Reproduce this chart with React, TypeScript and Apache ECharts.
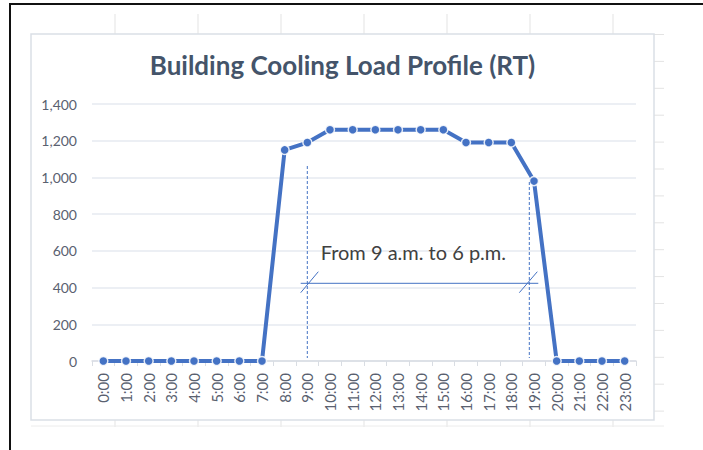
import React, { useEffect, useRef } from 'react';
import * as echarts from 'echarts';

const hours = [
  '0:00', '1:00', '2:00', '3:00', '4:00', '5:00', '6:00', '7:00',
  '8:00', '9:00', '10:00', '11:00', '12:00', '13:00', '14:00', '15:00',
  '16:00', '17:00', '18:00', '19:00', '20:00', '21:00', '22:00', '23:00',
];
const coolingLoad = [
  0, 0, 0, 0, 0, 0, 0, 0,
  1150, 1190, 1260, 1260, 1260, 1260, 1260, 1260,
  1190, 1190, 1190, 980, 0, 0, 0, 0,
];
const yMin = 0;
const yMax = 1400;
const yStep = 200;
const titleText = 'Building Cooling Load Profile (RT)';
const noteText = 'From 9 a.m. to 6 p.m.';

const BLUE = '#4472c4';
const CELL = '#e3e3e3';

export default function App() {
  const ref = useRef<HTMLDivElement>(null);
  useEffect(() => {
    document.body.style.margin = '0';
    const chart = echarts.init(ref.current!, null, { renderer: 'svg' });

    const deco: any[] = [];
    // outer black frame
    deco.push({
      type: 'rect', z: -10, silent: true,
      shape: { x: 10, y: 4, width: 760, height: 520 },
      style: { fill: 'none', stroke: '#111', lineWidth: 2 },
    });
    // spreadsheet cell lines
    [115, 198, 281, 364, 447, 530, 613].forEach((x) => {
      deco.push({ type: 'line', z: -5, silent: true, shape: { x1: x, y1: 14, x2: x, y2: 34 }, style: { stroke: CELL, lineWidth: 1 } });
      deco.push({ type: 'line', z: -5, silent: true, shape: { x1: x, y1: 420, x2: x, y2: 427 }, style: { stroke: CELL, lineWidth: 1 } });
    });
    for (let k = 0; k < 15; k++) {
      const y = 34.5 + k * 26.9;
      deco.push({ type: 'line', z: -5, silent: true, shape: { x1: 654, y1: y, x2: 664, y2: y }, style: { stroke: CELL, lineWidth: 1 } });
    }
    deco.push({ type: 'line', z: -5, silent: true, shape: { x1: 31, y1: 426, x2: 664, y2: 426 }, style: { stroke: '#ececec', lineWidth: 1 } });
    // chart area border
    deco.push({
      type: 'rect', z: -4, silent: true,
      shape: { x: 31, y: 34, width: 623, height: 386 },
      style: { fill: '#fff', stroke: '#dadfe6', lineWidth: 1.5 },
    });
    // annotation
    const ann = { stroke: BLUE, lineWidth: 1 };
    deco.push({ type: 'line', z: 5, silent: true, shape: { x1: 307.3, y1: 166, x2: 307.3, y2: 358 }, style: { ...ann, lineDash: [3, 2] } });
    deco.push({ type: 'line', z: 5, silent: true, shape: { x1: 529.3, y1: 182, x2: 529.3, y2: 358 }, style: { ...ann, lineDash: [3, 2] } });
    deco.push({ type: 'line', z: 5, silent: true, shape: { x1: 300.7, y1: 283.3, x2: 538.3, y2: 283.3 }, style: ann });
    deco.push({ type: 'line', z: 5, silent: true, shape: { x1: 300.7, y1: 292.7, x2: 318.3, y2: 271.7 }, style: ann });
    deco.push({ type: 'line', z: 5, silent: true, shape: { x1: 519.3, y1: 292.7, x2: 537.3, y2: 271.7 }, style: ann });
    deco.push({
      type: 'text', z: 6, silent: true, x: 320.7, y: 251.7,
      style: {
        text: noteText, fill: '#404040', fontSize: 20, fontFamily: 'Lato',
        align: 'left', verticalAlign: 'middle',
      },
    });

    chart.setOption({
      animation: false,
      backgroundColor: '#fff',
      title: {
        text: titleText,
        left: 342.5,
        top: 52,
        padding: 0,
        textAlign: 'center',
        textStyle: { fontFamily: 'Lato', fontWeight: 'bold', fontSize: 26, color: '#44546a' },
      },
      graphic: deco,
      grid: { left: 92, right: 67, top: 104, bottom: 89, containLabel: false },
      xAxis: {
        type: 'category',
        data: hours,
        boundaryGap: true,
        axisLine: { show: true, lineStyle: { color: '#d9dde3', width: 1.5 } },
        axisTick: { show: true, length: 5, lineStyle: { color: '#d9dde3', width: 1 } },
        axisLabel: {
          rotate: 90, margin: 12, color: '#5a6170', fontSize: 15, fontFamily: 'Lato',
          interval: 0,
        },
        splitLine: { show: false },
      },
      yAxis: {
        type: 'value',
        min: yMin,
        max: yMax,
        interval: yStep,
        axisLine: { show: false },
        axisTick: { show: false },
        axisLabel: { margin: 15, color: '#5a6170', fontSize: 14, fontFamily: 'Lato' },
        splitLine: { lineStyle: { color: '#e6eaf0', width: 1.5 } },
      },
      series: [
        {
          type: 'line',
          data: coolingLoad,
          symbol: 'circle',
          symbolSize: 9,
          lineStyle: { color: BLUE, width: 4 },
          itemStyle: { color: BLUE, borderColor: 'rgba(255,255,255,0.85)', borderWidth: 1.5 },
          z: 3,
        },
      ],
    });
    return () => chart.dispose();
  }, []);
  return <div ref={ref} style={{ width: 703, height: 450 }} />;
}
